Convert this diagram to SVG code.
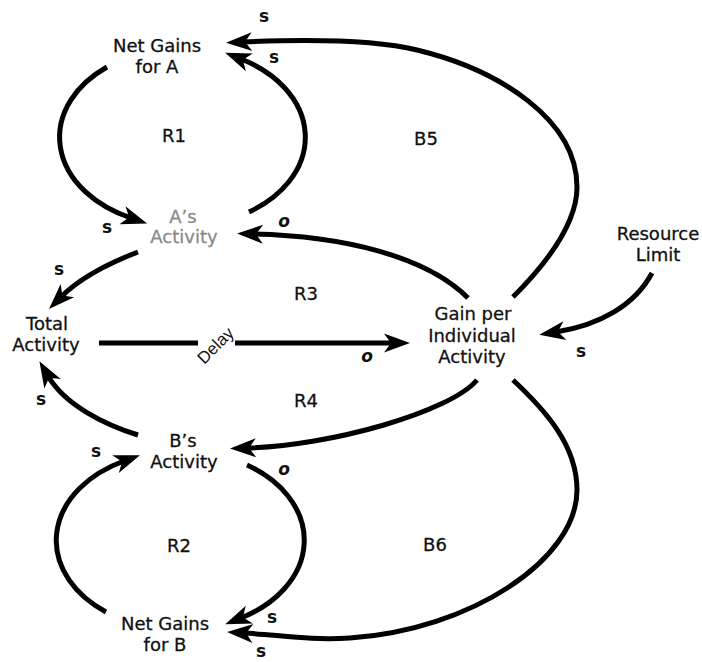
<svg xmlns="http://www.w3.org/2000/svg" width="702" height="662" viewBox="0 0 702 662">
  <style>
    .node { font-family: "DejaVu Sans", "Liberation Sans", sans-serif; font-size: 18px; fill: #111; text-anchor: middle; stroke: #111; stroke-width: 0.3; }
    .dim { fill: #8a8a8a; stroke: #8a8a8a; }
    .loop { font-family: "DejaVu Sans", "Liberation Sans", sans-serif; font-size: 18px; fill: #111; text-anchor: middle; stroke: #111; stroke-width: 0.3; }
    .pol { font-family: "DejaVu Sans", "Liberation Sans", sans-serif; font-size: 17px; font-weight: bold; fill: #111; text-anchor: middle; }
    .opp { font-style: italic; }
    .delay { font-family: "Liberation Sans", "DejaVu Sans", sans-serif; font-size: 17px; fill: #111; text-anchor: middle; }
    .link { fill: none; stroke: #000; stroke-width: 5; }
    .arrow { marker-end: url(#head); }
  </style>
  <defs>
    <marker id="head" markerUnits="userSpaceOnUse" markerWidth="30" markerHeight="24" viewBox="0 -12 30 24" refX="9" refY="0" orient="auto" overflow="visible">
      <path d="M26,0 L0,-9.5 L7,0 L0,9.5 Z" fill="#000"/>
    </marker>
  </defs>

  <!-- causal links -->
  <g id="connectors">
    <!-- R1 loop -->
    <path class="link arrow" d="M107,67 A123,89 0 0 0 131,218"/>
    <path class="link arrow" d="M249,212 A123,89 0 0 0 241,59"/>
    <!-- R2 loop -->
    <path class="link arrow" d="M106,612 A123,89 0 0 1 124,461"/>
    <path class="link arrow" d="M247,465 A123,89 0 0 1 241,618"/>
    <!-- B5: gain per activity back to net gains for A -->
    <path class="link arrow" d="M513,297 C545,265 577,225 577,187 C577,120 500,70 417,50 C367,38 290,40 243,42"/>
    <!-- gain per activity to A's activity -->
    <path class="link arrow" d="M468,298 C425,255 340,236 254,234"/>
    <!-- A's activity to total activity -->
    <path class="link arrow" d="M138,252 C112,262 82,276 61,297"/>
    <!-- B's activity to total activity -->
    <path class="link arrow" d="M138,435 C105,425 65,405 48,376"/>
    <!-- gain per activity to B's activity -->
    <path class="link arrow" d="M477,380 C450,412 330,446 247,448"/>
    <!-- B6: gain per activity to net gains for B -->
    <path class="link arrow" d="M513,380 C545,410 577,445 577,490 C577,560 470,630 350,638 C310,640.7 280,635 244,633"/>
    <!-- delayed link from total activity to gain per activity -->
    <path class="link" d="M99,343 H198"/>
    <path class="link arrow" d="M235,343 H393"/>
    <!-- resource limit to gain per activity -->
    <path class="link arrow" d="M652,273 C635,305 600,325 556,332"/>
  </g>

  <!-- variables -->
  <g id="net-gains-a">
    <text class="node" x="157" y="52">Net Gains</text>
    <text class="node" x="157" y="73">for A</text>
  </g>
  <g id="a-activity">
    <text class="node dim" x="183" y="223">A’s</text>
    <text class="node dim" x="184" y="243">Activity</text>
  </g>
  <g id="total-activity">
    <text class="node" x="47" y="330">Total</text>
    <text class="node" x="46" y="351">Activity</text>
  </g>
  <g id="gain-per-activity">
    <text class="node" x="473" y="320">Gain per</text>
    <text class="node" x="472" y="342">Individual</text>
    <text class="node" x="472" y="363">Activity</text>
  </g>
  <g id="resource-limit">
    <text class="node" x="658" y="240">Resource</text>
    <text class="node" x="658" y="261">Limit</text>
  </g>
  <g id="b-activity">
    <text class="node" x="183" y="447">B’s</text>
    <text class="node" x="184" y="468">Activity</text>
  </g>
  <g id="net-gains-b">
    <text class="node" x="165" y="630">Net Gains</text>
    <text class="node" x="165" y="651">for B</text>
  </g>

  <!-- loop identifiers -->
  <g id="loop-labels">
    <text class="loop" x="174" y="142">R1</text>
    <text class="loop" x="426" y="145">B5</text>
    <text class="loop" x="306" y="300">R3</text>
    <text class="loop" x="306" y="407">R4</text>
    <text class="loop" x="179" y="552">R2</text>
    <text class="loop" x="435" y="551">B6</text>
  </g>

  <!-- link polarities -->
  <g id="polarities">
    <text class="pol" x="264" y="22">s</text>
    <text class="pol" x="274" y="63">s</text>
    <text class="pol" x="107" y="233">s</text>
    <text class="pol opp" x="284" y="227">o</text>
    <text class="pol" x="59" y="275">s</text>
    <text class="pol opp" x="367" y="362">o</text>
    <text class="pol" x="581" y="357">s</text>
    <text class="pol" x="41" y="405">s</text>
    <text class="pol" x="96" y="457">s</text>
    <text class="pol opp" x="284" y="475">o</text>
    <text class="pol" x="272" y="623">s</text>
    <text class="pol" x="261" y="657">s</text>
  </g>

  <g id="delay-mark" transform="translate(216,346) rotate(-45)">
    <text class="delay" x="0" y="5">Delay</text>
  </g>
</svg>
